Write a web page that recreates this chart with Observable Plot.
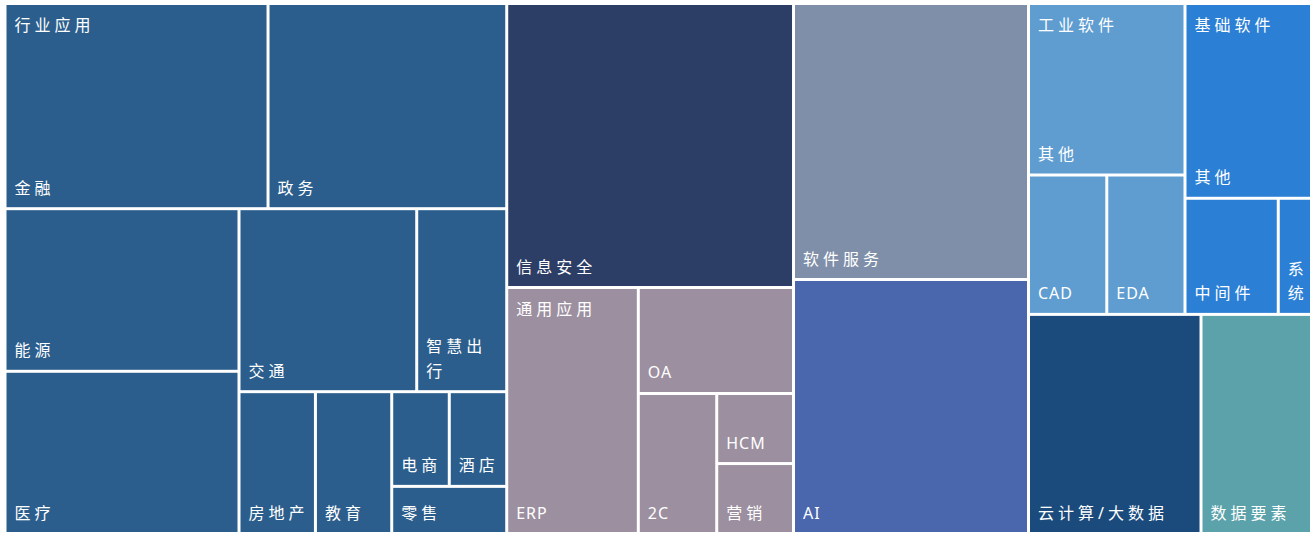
<!DOCTYPE html>
<html>
<head>
<meta charset="utf-8">
<script src="https://cdn.jsdelivr.net/npm/d3@7"></script>
<script src="https://cdn.jsdelivr.net/npm/@observablehq/plot@0.6"></script>
<style>
  html, body { margin: 0; padding: 0; background: #ffffff; }
  #chart svg { display: block; }
</style>
</head>
<body>
<div id="chart"></div>
<script>
// ---- data ----
const groups = ["行业应用", "信息安全", "通用应用", "软件服务", "AI", "工业软件", "基础软件", "云计算/大数据", "数据要素"];
const groupColors = ["#2B5E8C", "#2C3D66", "#9C8F9F", "#7F8FA9", "#4A66AD", "#5F9DD1", "#2B7FD5", "#1A4B7C", "#5BA2AA"];

const industryNames = ["金融", "政务", "能源", "医疗", "交通", "智慧出行", "房地产", "教育", "电商", "酒店", "零售"];
const industryValues = [539.7, 489.8, 380.5, 379.6, 325.2, 164.7, 108.4, 108.2, 54.5, 54.4, 54.2];

const generalNames = ["ERP", "OA", "2C", "HCM", "营销"];
const generalValues = [323.7, 164.5, 109.8, 53.8, 53.7];

const industrialNames = ["其他", "CAD", "EDA"];
const industrialValues = [268.4, 109.1, 109.0];

const basicNames = ["其他", "中间件", "系统"];
const basicValues = [246.4, 108.3, 38.6];

const singleNames = ["信息安全", "软件服务", "AI", "云计算/大数据", "数据要素"];
const singleValues = [814.5, 648.6, 596.9, 378.0, 242.1];

// ---- hierarchy ----
const kids = (names, values) => names.map((n, i) => ({name: n, value: values[i]}));
const childrenOf = {
  "行业应用": kids(industryNames, industryValues),
  "通用应用": kids(generalNames, generalValues),
  "工业软件": kids(industrialNames, industrialValues),
  "基础软件": kids(basicNames, basicValues)
};
const tree = {
  name: "root",
  children: groups.map(g => childrenOf[g]
    ? {name: g, children: childrenOf[g]}
    : {name: g, value: singleValues[singleNames.indexOf(g)]})
};

// squarified tiling, tuned to the layout rules of the original spreadsheet treemap
function sheetTile(ratio, bias) {
  return function(parent, x0, y0, x1, y1) {
    const nodes = parent.children;
    let value = parent.value, i0 = 0;
    while (i0 < nodes.length) {
      const dx = x1 - x0, dy = y1 - y0;
      const dice = dx * bias < dy;
      const side = dice ? dx : dy;
      const unit = dx * dy / value;
      let i1 = i0, sum = 0, best = Infinity;
      while (i1 < nodes.length) {
        const s = sum + nodes[i1].value;
        const thick = s * unit / side;
        let worst = 0;
        for (let j = i0; j <= i1; j++) {
          const len = nodes[j].value * unit / thick;
          const aspect = dice ? thick / len : len / thick;
          worst = Math.max(worst, aspect / ratio, ratio / aspect);
        }
        if (worst > best) break;
        best = worst; sum = s; i1++;
      }
      const row = {value: sum, children: nodes.slice(i0, i1)};
      if (dice) { const yy = y0 + dy * sum / value; d3.treemapDice(row, x0, y0, x1, yy); y0 = yy; }
      else { const xx = x0 + dx * sum / value; d3.treemapSlice(row, x0, y0, xx, y1); x0 = xx; }
      value -= sum; i0 = i1;
    }
  };
}

const W = 1306.5, H = 530;
const root = d3.hierarchy(tree).sum(d => d.value || 0).sort((a, b) => b.value - a.value);
d3.treemap().tile(sheetTile(1.25, 1.04)).size([W, H]).round(false)(root);

// ---- labels ----
const FONT = "'Noto Sans', 'Noto Sans CJK SC', sans-serif";
const ctx = document.createElement("canvas").getContext("2d");
ctx.font = "16px " + FONT;
const isCJK = t => /[\u4e00-\u9fff]/.test(t);
const spacingOf = t => isCJK(t) ? 4 : 1;
function wrap(text, width) {
  const sp = spacingOf(text);
  const lines = []; let line = "";
  for (const ch of text) {
    const t = line + ch;
    const w = ctx.measureText(t).width + sp * ([...t].length - 1);
    if (line && w > width) { lines.push(line); line = ch; } else line = t;
  }
  lines.push(line);
  return lines.join("\n");
}

const leaves = root.leaves().map(d => ({
  x0: d.x0, x1: d.x1, y0: d.y0, y1: d.y1,
  group: d.depth === 1 ? d.data.name : d.parent.data.name,
  label: wrap(d.data.name, d.x1 - d.x0 - 18)
}));
const parents = root.children.filter(d => d.children).map(d => ({x0: d.x0, y0: d.y0, label: d.data.name}));

const chart = Plot.plot({
  width: 1315,
  height: 533,
  margin: 0,
  style: {background: "#ffffff"},
  x: {domain: [0, W], range: [5, 5 + W], axis: null},
  y: {domain: [0, H], range: [3.5, 3.5 + H], axis: null},
  color: {domain: groups, range: groupColors},
  marks: [
    Plot.rect(leaves, {x1: "x0", x2: "x1", y1: "y0", y2: "y1", fill: "group", inset: 1.5}),
    Plot.text(leaves, {x: "x0", y: "y1", text: "label", dx: 9, dy: -15.5, textAnchor: "start", lineAnchor: "bottom",
      lineHeight: 1.55, fill: "white", fontSize: 16, fontFamily: FONT}),
    Plot.text(parents, {x: "x0", y: "y0", text: "label", dx: 9, dy: 26.5, textAnchor: "start", lineAnchor: "bottom",
      fill: "white", fontSize: 16, fontFamily: FONT})
  ]
});
d3.select(chart).selectAll("text").attr("letter-spacing", function() { return spacingOf(this.textContent) + "px"; });
document.getElementById("chart").appendChild(chart);
</script>
</body>
</html>
